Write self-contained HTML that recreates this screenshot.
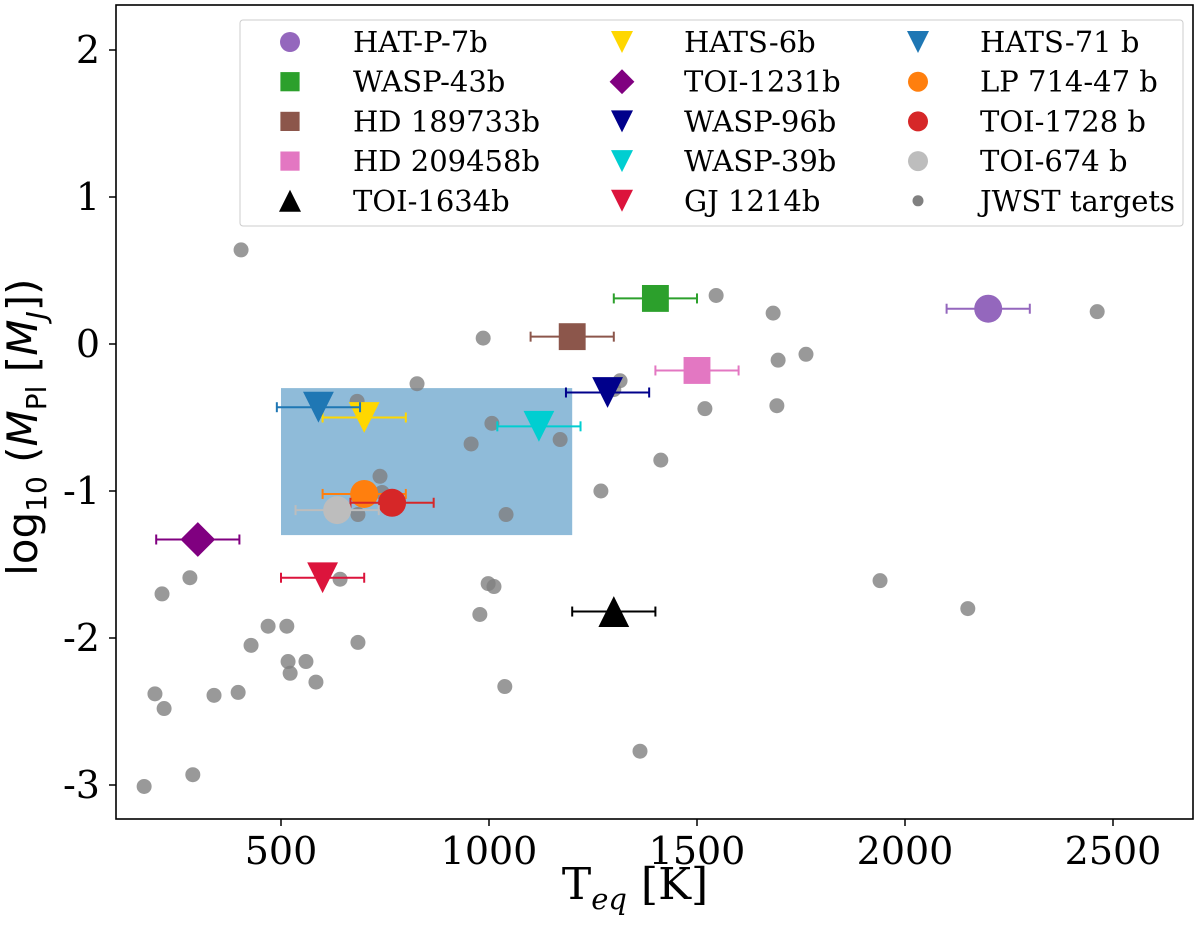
<!DOCTYPE html>
<html><head><meta charset="utf-8"><style>
body{margin:0;background:#fff;width:1200px;height:932px;overflow:hidden;position:relative}
svg text{font-family:"DejaVu Serif","Liberation Serif",serif;fill:#000}
</style></head><body>
<svg id="chart" width="1200" height="932" xmlns="http://www.w3.org/2000/svg" style="position:absolute;left:0;top:0">
</svg>
<script>
const jwstT=[171,197,219,214,281,288,339,397,404,428,469,514,517,522,560,584,642,683,685,685,738,743,827,957,1007,986,978,998,1012,1038,1041,1171,1269,1300,1315,1363,1413,1519,1546,1683,1692,1695,1762,1940,2151,2462];
const jwstM=[-3.01,-2.38,-2.48,-1.70,-1.59,-2.93,-2.39,-2.37,0.64,-2.05,-1.92,-1.92,-2.16,-2.24,-2.16,-2.30,-1.60,-0.39,-2.03,-1.16,-0.90,-1.01,-0.27,-0.68,-0.54,0.04,-1.84,-1.63,-1.65,-2.33,-1.16,-0.65,-1.00,-0.31,-0.25,-2.77,-0.79,-0.44,0.33,0.21,-0.42,-0.11,-0.07,-1.61,-1.80,0.22];
const planetNames=["HAT-P-7b","WASP-43b","HD 189733b","HD 209458b","TOI-1634b","HATS-6b","TOI-1231b","WASP-96b","WASP-39b","GJ 1214b","HATS-71 b","LP 714-47 b","TOI-1728 b","TOI-674 b"];
const planetT=[2200,1400,1200,1500,1300,700,300,1285,1120,600,590,700,767,635];
const planetM=[0.24,0.31,0.05,-0.18,-1.82,-0.50,-1.33,-0.33,-0.56,-1.59,-0.43,-1.02,-1.08,-1.13];
const planetErr=[100,100,100,100,100,100,100,100,100,100,100,100,100,100];
const planetColor=["#9467bd","#2ca02c","#8c564b","#e377c2","#000000","#ffd700","#800080","#00008b","#00ced1","#dc143c","#1f77b4","#ff7f0e","#d62728","#bdbdbd"];
const planetShape=["o","s","s","s","^","v","D","v","v","v","v","o","o","o"];
const xTicks=[500,1000,1500,2000,2500];
const yTicks=[2,1,0,-1,-2,-3];
const boxT=[500,1200], boxM=[-1.3,-0.3];

const X=t=>281+(t-500)*0.416;
const Y=m=>344-m*147;
const svg=document.getElementById('chart');
const NS="http://www.w3.org/2000/svg";
function mk(tag,attrs,parent){const e=document.createElementNS(NS,tag);for(const k in attrs)e.setAttribute(k,attrs[k]);(parent||svg).appendChild(e);return e;}
function marker(shape,cx,cy,s,color,parent){
  if(shape==="o") return mk('circle',{cx:cx,cy:cy,r:s*0.5,fill:color},parent);
  if(shape==="s") return mk('rect',{x:cx-s*0.48,y:cy-s*0.48,width:s*0.96,height:s*0.96,fill:color},parent);
  if(shape==="D") return mk('polygon',{points:`${cx},${cy-s*0.62} ${cx+s*0.62},${cy} ${cx},${cy+s*0.62} ${cx-s*0.62},${cy}`,fill:color},parent);
  if(shape==="v") return mk('polygon',{points:`${cx-s*0.55},${cy-s*0.55} ${cx+s*0.55},${cy-s*0.55} ${cx},${cy+s*0.55}`,fill:color},parent);
  if(shape==="^") return mk('polygon',{points:`${cx-s*0.55},${cy+s*0.55} ${cx+s*0.55},${cy+s*0.55} ${cx},${cy-s*0.55}`,fill:color},parent);
}
const box=mk('rect',{x:X(boxT[0]),y:Y(boxM[1]),width:X(boxT[1])-X(boxT[0]),height:Y(boxM[0])-Y(boxM[1]),fill:'#1f77b4','fill-opacity':0.5});


jwstT.forEach((t,i)=>{
  const c=mk('circle',{cx:X(t),cy:Y(jwstM[i]),r:7.5,fill:'#808080','fill-opacity':0.8});
  
  
});
planetT.forEach((t,i)=>{
  const g=mk('g',{});
  
  
  const y=Y(planetM[i]),x1=X(t-planetErr[i]),x2=X(t+planetErr[i]);
  mk('line',{x1:x1,x2:x2,y1:y,y2:y,stroke:planetColor[i],'stroke-width':2},g);
  mk('line',{x1:x1,x2:x1,y1:y-5,y2:y+5,stroke:planetColor[i],'stroke-width':2},g);
  mk('line',{x1:x2,x2:x2,y1:y-5,y2:y+5,stroke:planetColor[i],'stroke-width':2},g);
  marker(planetShape[i],X(t),y,28,planetColor[i],g);
});
const fr=mk('rect',{x:116,y:5,width:1077,height:814,fill:'none',stroke:'#000','stroke-width':1.6});


xTicks.forEach(t=>{
  mk('line',{x1:X(t),x2:X(t),y1:819,y2:826,stroke:'#000','stroke-width':1.5});
  const tx=mk('text',{x:X(t),y:864,'font-size':38,'text-anchor':'middle'});
  tx.textContent=t;
  
  
});
yTicks.forEach(m=>{
  mk('line',{x1:109,x2:116,y1:Y(m),y2:Y(m),stroke:'#000','stroke-width':1.5});
  const tx=mk('text',{x:100,y:Y(m)+13,'font-size':38,'text-anchor':'end'});
  tx.textContent=m;
  
  
});
const lg=mk('g',{});


mk('rect',{x:240,y:20,width:943,height:206,rx:3,fill:'#fff','fill-opacity':0.85,stroke:'#ccc','stroke-width':1},lg);
const entries=planetNames.map((n,i)=>({n:n,c:planetColor[i],s:planetShape[i]}));
entries.push({n:"JWST targets",c:'#808080',s:'dot'});
const colMX=[290,622,918],colTX=[353,684,980];
entries.forEach((e,i)=>{
  const col=Math.floor(i/5),row=i%5,y=42+row*39.7;
  const g=mk('g',{},lg);
  
  
  if(e.s==='dot') mk('circle',{cx:colMX[col],cy:y,r:5.5,fill:'#808080'},g);
  else marker(e.s,colMX[col],y,20,e.c,g);
  const t=mk('text',{x:colTX[col],y:y+10,'font-size':29},g);
  t.textContent=e.n;
});
</script>
<div style="position:absolute;left:485px;top:860px;width:300px;text-align:center;font:44px 'DejaVu Serif','Liberation Serif',serif;line-height:50px">T<sub style="font-size:29px;font-style:italic">eq</sub> [K]</div>
<div style="position:absolute;left:-220px;top:395px;width:500px;text-align:center;transform:rotate(-90deg);font:42px 'DejaVu Sans','Liberation Sans',sans-serif;line-height:50px;white-space:nowrap">log<sub style="font-size:28px">10</sub> (<i>M</i><sub style="font-size:28px">Pl</sub> [<i>M</i><sub style="font-size:28px"><i>J</i></sub>])</div>
</body></html>
